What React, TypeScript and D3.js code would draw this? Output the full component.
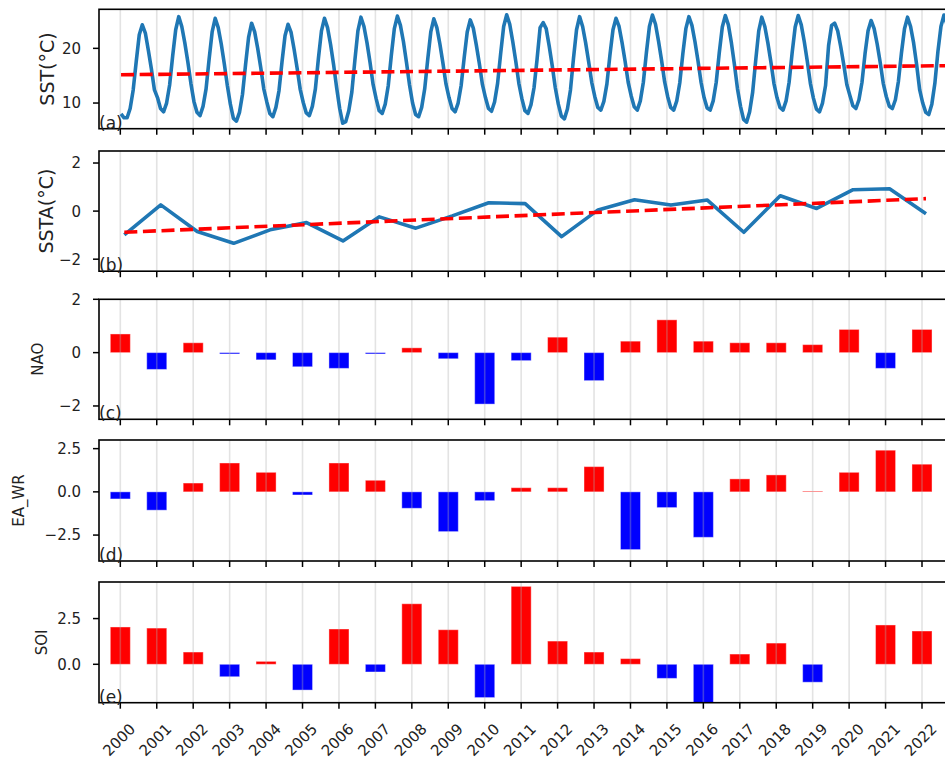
import React from "react";
import * as d3 from "d3";

// ---- data -------------------------------------------------------------
const years = [
  2000, 2001, 2002, 2003, 2004, 2005, 2006, 2007, 2008, 2009, 2010, 2011,
  2012, 2013, 2014, 2015, 2016, 2017, 2018, 2019, 2020, 2021, 2022,
];

// Monthly sea surface temperature (°C), one row per year, Jan..Dec
const sstMonthly = [
  [8.0, 7.3, 7.3, 9.0, 12.4, 17.6, 22.5, 24.3, 22.8, 19.6, 16.2, 12.4],
  [11.0, 9.0, 8.4, 10.0, 13.3, 18.6, 23.4, 25.8, 24.0, 21.0, 17.5, 13.6],
  [10.3, 8.3, 7.7, 9.4, 12.6, 18.0, 23.0, 25.5, 23.8, 20.8, 17.2, 13.2],
  [9.8, 7.2, 6.7, 8.3, 11.6, 17.0, 22.0, 24.6, 23.0, 20.0, 16.5, 12.6],
  [10.2, 8.1, 7.5, 9.2, 12.2, 17.5, 22.3, 24.4, 22.9, 19.8, 16.3, 12.5],
  [10.1, 8.2, 7.7, 9.4, 12.6, 18.2, 23.2, 25.5, 23.8, 20.7, 17.0, 12.8],
  [9.0, 6.3, 6.6, 8.6, 12.0, 17.8, 23.2, 25.7, 24.0, 21.0, 17.4, 13.4],
  [10.8, 8.6, 8.1, 9.8, 13.2, 18.7, 23.6, 25.9, 24.2, 21.2, 17.4, 13.3],
  [10.0, 7.9, 7.5, 9.2, 12.6, 18.0, 23.0, 25.4, 23.8, 20.8, 17.3, 13.5],
  [11.0, 9.0, 8.4, 10.0, 13.2, 18.3, 23.0, 25.2, 23.7, 20.6, 17.2, 13.4],
  [11.0, 9.0, 8.5, 10.2, 13.6, 19.0, 24.0, 26.15, 24.4, 21.2, 17.6, 13.6],
  [10.8, 8.6, 8.1, 9.7, 12.8, 18.0, 23.8, 24.7, 23.6, 20.4, 16.8, 12.8],
  [9.8, 7.6, 7.1, 8.9, 12.4, 18.2, 23.4, 25.8, 24.0, 21.0, 17.5, 13.8],
  [11.2, 9.2, 8.7, 10.3, 13.5, 18.8, 23.4, 25.5, 24.0, 21.0, 17.6, 13.8],
  [11.3, 9.3, 8.7, 10.4, 13.8, 19.2, 24.0, 26.1, 24.4, 21.3, 17.8, 13.9],
  [11.2, 9.2, 8.7, 10.4, 13.7, 19.0, 23.6, 25.8, 24.2, 21.2, 17.7, 13.8],
  [11.0, 9.1, 8.7, 10.4, 13.8, 19.2, 23.9, 26.0, 24.3, 21.0, 17.0, 12.6],
  [9.4, 7.0, 6.5, 8.4, 12.0, 17.8, 23.2, 25.7, 24.0, 21.0, 17.5, 13.6],
  [11.0, 9.2, 8.7, 10.4, 13.8, 19.2, 23.9, 26.0, 24.3, 21.2, 17.6, 13.6],
  [10.9, 8.9, 8.4, 10.0, 13.2, 20.5, 24.2, 24.6, 23.2, 20.3, 17.0, 13.4],
  [11.4, 9.5, 9.0, 10.6, 13.8, 19.0, 23.2, 25.1, 23.6, 20.8, 17.4, 13.6],
  [11.2, 9.4, 9.0, 10.6, 14.0, 19.2, 23.6, 25.7, 24.0, 21.0, 17.0, 12.4],
  [10.0, 8.3, 7.9, 9.8, 13.6, 19.4, 24.0, 26.1, 24.4, 21.4, 17.8, 14.0],
];

// Annual SST anomaly (°C)
const sstaAnnual = [
  -0.99, 0.26, -0.85, -1.34, -0.78, -0.48, -1.24, -0.24, -0.71, -0.2, 0.35,
  0.31, -1.06, 0.05, 0.47, 0.25, 0.46, -0.88, 0.64, 0.11, 0.89, 0.93, -0.11,
];

// Climate indices
const naoIndex = [
  0.7, -0.63, 0.37, -0.05, -0.27, -0.53, -0.59, -0.05, 0.18, -0.23, -1.93,
  -0.3, 0.58, -1.05, 0.43, 1.23, 0.43, 0.37, 0.37, 0.3, 0.87, -0.59, 0.87,
];
const eaWrIndex = [
  -0.41, -1.06, 0.51, 1.67, 1.13, -0.18, 1.67, 0.67, -0.95, -2.3, -0.51, 0.24,
  0.24, 1.46, -3.34, -0.91, -2.63, 0.75, 0.98, 0.04, 1.13, 2.41, 1.6,
];
const soiIndex = [
  2.04, 1.98, 0.67, -0.68, 0.16, -1.41, 1.93, -0.42, 3.31, 1.89, -1.82, 4.26,
  1.27, 0.67, 0.31, -0.77, -2.2, 0.56, 1.16, -0.98, 0, 2.15, 1.82,
];

const sstTicks = [10, 20];
const sstaTicks = [-2, 0, 2];
const naoTicks = [-2, 0, 2];
const eaWrTicks = [-2.5, 0, 2.5];
const soiTicks = [0, 2.5];

// ---- layout -------------------------------------------------------------
const WIDTH = 945;
const HEIGHT = 760;
const FONT = "'DejaVu Sans', sans-serif";
const PLOT_LEFT = 99;
const PX_PER_YEAR = 36.44;
const LEFT_PAD_YEARS = 0.585;
const RIGHT_PAD_YEARS = 1.3;
const ANNUAL_OFFSET = 0.11;
const MONTH_OFFSET = 0.02;
const BAR_WIDTH = 0.55;
const TICK_LEN = 6;

const firstYear = years[0];
const lastYear = years[years.length - 1];
const x = d3
  .scaleLinear()
  .domain([firstYear - LEFT_PAD_YEARS, lastYear + RIGHT_PAD_YEARS])
  .range([
    PLOT_LEFT,
    PLOT_LEFT + (lastYear - firstYear + LEFT_PAD_YEARS + RIGHT_PAD_YEARS) * PX_PER_YEAR,
  ]);
const plotRight = x.range()[1];

const minus = (s: string) => s.replace("-", "\u2212");

function linearFit(ts: number[], vs: number[]) {
  const mt = d3.mean(ts) as number;
  const mv = d3.mean(vs) as number;
  let num = 0;
  let den = 0;
  ts.forEach((t, i) => {
    num += (t - mt) * (vs[i] - mv);
    den += (t - mt) * (t - mt);
  });
  const slope = num / den;
  return (t: number) => mv + slope * (t - mt);
}

// monthly points
const sstPoints = sstMonthly.flatMap((row, i) =>
  row.map((v, m) => ({ t: years[i] + m / 12 + MONTH_OFFSET, v }))
);
const sstExtent = d3.extent(sstPoints, (d) => d.v) as [number, number];
const sstPad = (sstExtent[1] - sstExtent[0]) * 0.05;
const sstFit = linearFit(
  sstPoints.map((d) => d.t),
  sstPoints.map((d) => d.v)
);

const sstaPoints = sstaAnnual.map((v, i) => ({ t: years[i] + ANNUAL_OFFSET, v }));
const sstaFit = linearFit(
  sstaPoints.map((d) => d.t),
  sstaPoints.map((d) => d.v)
);

type PanelSpec = {
  id: string;
  top: number;
  bottom: number;
  domain: [number, number];
  ticks: number[];
  fmt: (v: number) => string;
  label: string;
  labelSize: number;
  labelX: number;
  tag: string;
  kind: "line" | "anom" | "bar";
  values?: number[];
};

const panels: PanelSpec[] = [
  {
    id: "a",
    top: 9.3,
    bottom: 128.7,
    domain: [sstExtent[0] - sstPad, sstExtent[1] + sstPad],
    ticks: sstTicks,
    fmt: (v) => minus(d3.format("d")(v)),
    label: "SST(°C)",
    labelSize: 19,
    labelX: 54,
    tag: "(a)",
    kind: "line",
  },
  {
    id: "b",
    top: 151,
    bottom: 271.2,
    domain: [-2.5, 2.5],
    ticks: sstaTicks,
    fmt: (v) => minus(d3.format("d")(v)),
    label: "SSTA(°C)",
    labelSize: 19,
    labelX: 52.5,
    tag: "(b)",
    kind: "anom",
  },
  {
    id: "c",
    top: 299.3,
    bottom: 419.3,
    domain: [-2.5, 2],
    ticks: naoTicks,
    fmt: (v) => minus(d3.format("d")(v)),
    label: "NAO",
    labelSize: 15,
    labelX: 43,
    tag: "(c)",
    kind: "bar",
    values: naoIndex,
  },
  {
    id: "d",
    top: 440,
    bottom: 561,
    domain: [-4, 3],
    ticks: eaWrTicks,
    fmt: (v) => minus(d3.format(".1f")(v)),
    label: "EA_WR",
    labelSize: 15,
    labelX: 23.5,
    tag: "(d)",
    kind: "bar",
    values: eaWrIndex,
  },
  {
    id: "e",
    top: 582,
    bottom: 702.7,
    domain: [-2.1, 4.5],
    ticks: soiTicks,
    fmt: (v) => minus(d3.format(".1f")(v)),
    label: "SOI",
    labelSize: 15,
    labelX: 46.5,
    tag: "(e)",
    kind: "bar",
    values: soiIndex,
  },
];

const LINE_BLUE = "#1f77b4";

function PanelView({ p }: { p: PanelSpec }) {
  const y = d3.scaleLinear().domain(p.domain).range([p.bottom, p.top]);
  const clipId = `clip-${p.id}`;
  const cy = (p.top + p.bottom) / 2;
  const line = d3
    .line<{ t: number; v: number }>()
    .x((d) => x(d.t))
    .y((d) => y(d.v));

  let marks: React.ReactNode = null;
  let overlay: React.ReactNode = null;

  if (p.kind === "bar" && p.values) {
    marks = p.values.map((v, i) => {
      const x0 = x(years[i] - BAR_WIDTH / 2);
      const x1 = x(years[i] + BAR_WIDTH / 2);
      const y0 = y(Math.max(0, v));
      const y1 = y(Math.min(0, v));
      return (
        <rect
          key={i}
          x={x0}
          y={y0}
          width={x1 - x0}
          height={Math.max(0, y1 - y0)}
          fill={v >= 0 ? "#ff0000" : "#0000ff"}
          stroke="rgba(255,255,255,0.4)"
          strokeWidth={1}
        />
      );
    });
  } else {
    const pts = p.kind === "line" ? sstPoints : sstaPoints;
    const fit = p.kind === "line" ? sstFit : sstaFit;
    const t0 = pts[0].t;
    const t1 = pts[pts.length - 1].t;
    overlay = (
      <g>
        <path
          d={line(pts) as string}
          fill="none"
          stroke={LINE_BLUE}
          strokeWidth={3.6}
          strokeLinejoin="round"
        />
        <path
          d={line([
            { t: t0, v: fit(t0) },
            { t: t1, v: fit(t1) },
          ]) as string}
          fill="none"
          stroke="#ff0000"
          strokeWidth={3.6}
          strokeDasharray="13,5.6"
        />
      </g>
    );
  }

  return (
    <g>
      <defs>
        <clipPath id={clipId}>
          <rect x={PLOT_LEFT} y={p.top} width={plotRight - PLOT_LEFT} height={p.bottom - p.top} />
        </clipPath>
      </defs>
      <g clipPath={`url(#${clipId})`}>
        {marks}
        {years.map((yr) => (
          <line
            key={yr}
            x1={x(yr)}
            x2={x(yr)}
            y1={p.top}
            y2={p.bottom}
            stroke="rgba(176,176,176,0.35)"
            strokeWidth={1.6}
          />
        ))}
        {overlay}
      </g>
      {/* axes frame */}
      <rect
        x={PLOT_LEFT}
        y={p.top}
        width={plotRight - PLOT_LEFT}
        height={p.bottom - p.top}
        fill="none"
        stroke="#000"
        strokeWidth={1.6}
      />
      {/* y ticks */}
      {p.ticks.map((t) => (
        <g key={t}>
          <line
            x1={PLOT_LEFT - TICK_LEN}
            x2={PLOT_LEFT}
            y1={y(t)}
            y2={y(t)}
            stroke="#000"
            strokeWidth={1.5}
          />
          <text
            x={81}
            y={y(t)}
            dy="0.36em"
            textAnchor="end"
            fontSize={15}
            fontFamily={FONT}
            fill="#222"
          >
            {p.fmt(t)}
          </text>
        </g>
      ))}
      {/* x ticks */}
      {years.map((yr) => (
        <line
          key={yr}
          x1={x(yr)}
          x2={x(yr)}
          y1={p.bottom}
          y2={p.bottom + TICK_LEN}
          stroke="#000"
          strokeWidth={1.5}
        />
      ))}
      <text
        transform={`translate(${p.labelX},${cy}) rotate(-90)`}
        textAnchor="middle"
        fontSize={p.labelSize}
        fontFamily={FONT}
        fill="#222"
      >
        {p.label}
      </text>
      <text x={PLOT_LEFT} y={p.bottom} fontSize={17} fontFamily={FONT} fill="#222">
        {p.tag}
      </text>
    </g>
  );
}

export default function App() {
  const last = panels[panels.length - 1];
  return (
    <svg
      width={WIDTH}
      height={HEIGHT}
      viewBox={`0 0 ${WIDTH} ${HEIGHT}`}
      style={{ position: "absolute", left: 0, top: 0, background: "#fff" }}
    >
      <rect x={0} y={0} width={WIDTH} height={HEIGHT} fill="#fff" />
      {panels.map((p) => (
        <PanelView key={p.id} p={p} />
      ))}
      {years.map((yr) => (
        <text
          key={yr}
          transform={`translate(${x(yr) - 1.5},${last.bottom + 37}) rotate(-45)`}
          textAnchor="middle"
          dy="0.36em"
          fontSize={15}
          fontFamily={FONT}
          fill="#222"
        >
          {yr}
        </text>
      ))}
    </svg>
  );
}
